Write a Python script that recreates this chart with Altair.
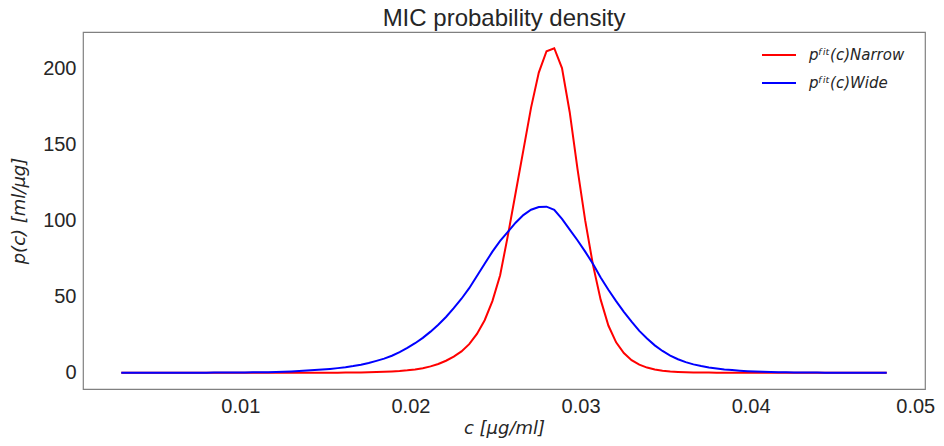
import altair as alt
import numpy as np
import pandas as pd

# sampling grid of MIC concentration c [µg/ml]
C_START, C_STOP, N_POINTS = 0.003, 0.048, 100

# p^fit(c) Narrow
narrow = [
    0.0, 0.0, 0.0, 0.0, 0.0, 0.0, 0.0, 0.0, 0.0, 0.0,
    0.0, 0.0, 0.0, 0.0, 0.0, 0.0, 0.0, 0.0, 0.003, 0.005,
    0.007, 0.01, 0.013, 0.018, 0.025, 0.034, 0.047, 0.065, 0.09, 0.12,
    0.17, 0.23, 0.32, 0.44, 0.6, 0.83, 1.15, 1.6, 2.2, 3.0,
    4.2, 5.8, 7.9, 10.6, 14.0, 18.8, 25.5, 34.5, 47, 64,
    90, 118, 146, 174, 197, 211, 213, 200, 171, 134,
    100, 71, 48, 31, 20, 13, 8.3, 5.3, 3.4, 2.2,
    1.4, 0.9, 0.58, 0.37, 0.24, 0.15, 0.1, 0.06, 0.04, 0.025,
    0.016, 0.01, 0.006, 0.004, 0.0, 0.0, 0.0, 0.0, 0.0, 0.0,
    0.0, 0.0, 0.0, 0.0, 0.0, 0.0, 0.0, 0.0, 0.0, 0.0,
]

# p^fit(c) Wide
wide = [
    0.01, 0.012, 0.014, 0.017, 0.02, 0.025, 0.03, 0.037, 0.045, 0.055,
    0.065, 0.08, 0.1, 0.12, 0.15, 0.18, 0.22, 0.27, 0.33, 0.4,
    0.5, 0.7, 0.9, 1.15, 1.45, 1.75, 2.1, 2.55, 3.05, 3.65,
    4.4, 5.3, 6.4, 7.8, 9.3, 11.2, 13.5, 16.3, 19.4, 22.9,
    27, 31.5, 36.6, 42.4, 48.6, 55.5, 63.5, 71.5, 79.5, 86.5,
    92.5, 98.5, 103.5, 107, 108.8, 109, 107, 101, 94, 87,
    79.5, 71.5, 62.5, 54.5, 47, 40, 33.5, 27.5, 22.5, 18,
    14.3, 11.3, 8.9, 7.0, 5.5, 4.4, 3.5, 2.8, 2.2, 1.75,
    1.35, 1.05, 0.82, 0.64, 0.5, 0.39, 0.3, 0.23, 0.18, 0.14,
    0.11, 0.085, 0.065, 0.05, 0.04, 0.03, 0.024, 0.018, 0.014, 0.011,
]

LABEL_NARROW = "p\u1da0\u2071\u1d57(c)Narrow"
LABEL_WIDE = "p\u1da0\u2071\u1d57(c)Wide"
x_ticks = [0.01, 0.02, 0.03, 0.04, 0.05]
y_ticks = [0, 50, 100, 150, 200]

c = np.linspace(C_START, C_STOP, N_POINTS)
df = pd.concat([
    pd.DataFrame({"c": c, "p": narrow, "series": LABEL_NARROW}),
    pd.DataFrame({"c": c, "p": wide, "series": LABEL_WIDE}),
])

TXT = "#262626"

chart = (
    alt.Chart(df)
    .mark_line(strokeWidth=2)
    .encode(
        x=alt.X(
            "c:Q",
            scale=alt.Scale(domain=[0.00075, 0.05025], nice=False, zero=False),
            axis=alt.Axis(
                values=x_ticks, format=".2f", title="c [μg/ml]",
                titleY=39, titleBaseline="middle",
                labelFlush=10, labelFlushOffset=14,
            ),
        ),
        y=alt.Y(
            "p:Q",
            scale=alt.Scale(domain=[-10.65, 223.65], nice=False, zero=False),
            axis=alt.Axis(
                values=y_ticks, title="p(c) [ml/μg]",
                titleX=-64, titleY=178.5, titleAngle=270,
                titleBaseline="middle", titleAlign="center",
            ),
        ),
        color=alt.Color(
            "series:N",
            scale=alt.Scale(domain=[LABEL_NARROW, LABEL_WIDE], range=["#ff0000", "#0000ff"]),
            legend=alt.Legend(
                title=None, orient="none", legendX=678, legendY=5,
                symbolType="stroke", symbolSize=1156, symbolStrokeWidth=2,
                labelFont="DejaVu Sans", labelFontStyle="italic", labelFontSize=15,
                labelColor=TXT, labelOffset=12, rowPadding=2, padding=0,
            ),
        ),
        order=alt.Order("c:Q"),
    )
    .properties(
        width=842, height=357,
        title=alt.TitleParams(
            "MIC probability density", font="Liberation Sans", fontSize=24,
            fontWeight="normal", color=TXT, anchor="middle", offset=1,
        ),
        autosize=alt.AutoSizeParams(type="none"),
        padding={"left": 75, "top": 24, "right": 11, "bottom": 49},
    )
    .configure_view(stroke="#808080", strokeWidth=1.2)
    .configure_axis(
        grid=False, ticks=False, domain=False,
        labelFont="Liberation Sans", labelFontSize=20, labelColor=TXT, labelPadding=7,
        titleFont="DejaVu Sans", titleFontStyle="italic", titleFontWeight="normal",
        titleFontSize=18, titleColor=TXT,
    )
)

chart.save("out.html", embed_options={"renderer": "svg", "actions": False})
